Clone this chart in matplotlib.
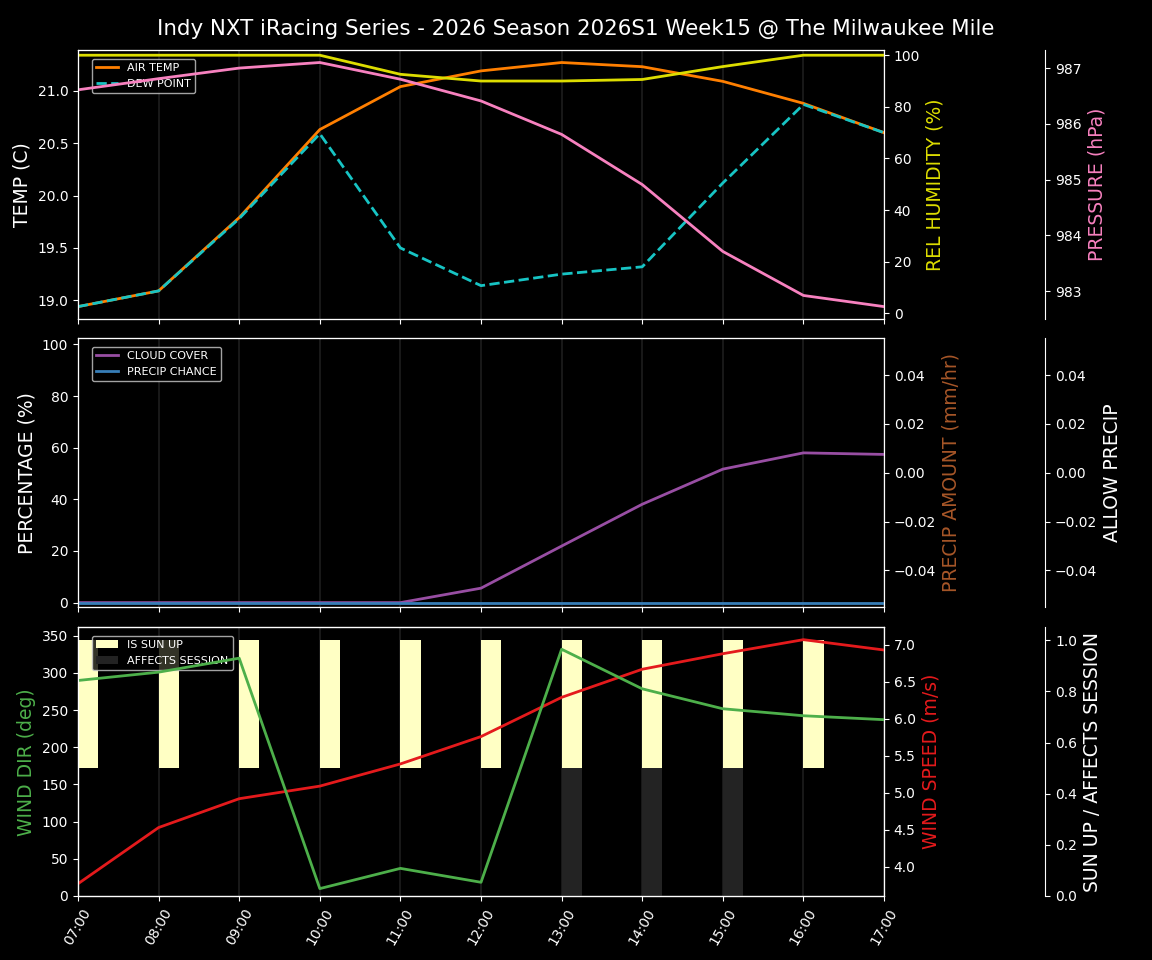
import matplotlib

matplotlib.use("Agg")
import matplotlib.dates as mdates
import matplotlib.pyplot as plt
import numpy as np
import pandas as pd

TITLE = "Indy NXT iRacing Series - 2026 Season 2026S1 Week15 @ The Milwaukee Mile"

hours = pd.date_range("2026-01-01 07:00", periods=11, freq="h")

air_temp = [18.94, 19.09, 19.79, 20.63, 21.04, 21.19, 21.27, 21.23, 21.09, 20.88, 20.60]
dew_point = [18.94, 19.09, 19.78, 20.59, 19.50, 19.14, 19.25, 19.32, 20.12, 20.87, 20.60]
rel_humidity = [100, 100, 100, 100, 92.6, 90.0, 90.0, 90.6, 95.6, 100, 100]
pressure = [986.61, 986.81, 987.00, 987.10, 986.80, 986.41, 985.81, 984.91, 983.71, 982.92, 982.72]

cloud_cover = [0, 0, 0, 0, 0, 5.6, 21.9, 38.1, 51.7, 58.0, 57.4]
precip_chance = [0, 0, 0, 0, 0, 0, 0, 0, 0, 0, 0]
precip_amount = [0, 0, 0, 0, 0, 0, 0, 0, 0, 0, 0]
allow_precip = [0, 0, 0, 0, 0, 0, 0, 0, 0, 0, 0]

wind_dir = [289.7, 300.9, 319.7, 9.9, 37.1, 18.4, 331.7, 278.5, 251.7, 242.3, 237.0]
wind_speed = [3.77, 4.53, 4.92, 5.09, 5.39, 5.76, 6.29, 6.67, 6.88, 7.07, 6.93]
sun_up = [1, 1, 1, 1, 1, 1, 1, 1, 1, 1, 1]
affects_session = [0, 0, 0, 0, 0, 0, 1, 1, 1, 0, 0]

plt.style.use("dark_background")

fig = plt.figure(figsize=(11.52, 9.6), dpi=100)
left, width = 0.0677, 0.6997
ax_h = 0.2797
bottoms = [0.6679, 0.3677, 0.0667]
ax1 = fig.add_axes([left, bottoms[0], width, ax_h])
ax2 = fig.add_axes([left, bottoms[1], width, ax_h], sharex=ax1)
ax3 = fig.add_axes([left, bottoms[2], width, ax_h], sharex=ax1)

fig.suptitle(TITLE, fontsize=15.4, y=0.9797)

LABEL_FS = 13.5
HUM_COL = "#dddd00"
PRES_COL = "#f781bf"
BROWN = "#a65628"
GREEN = "#4daf4a"
RED = "#e41a1c"

for ax in (ax1, ax2, ax3):
    ax.grid(axis="x", color="#1e1e1e", linewidth=1.2)
    ax.set_axisbelow(True)


def extra_axis(ax):
    extra = ax.twinx()
    extra.spines["right"].set_position(("axes", 1.2))
    return extra


# --- top panel: temperatures, humidity, pressure
ax1.plot(hours, air_temp, color="#ff7f00", linewidth=2, label="AIR TEMP")
ax1.plot(hours, dew_point, color="#17c4c4", linewidth=2, linestyle="--", label="DEW POINT")
ax1.set_ylabel("TEMP (C)", fontsize=LABEL_FS)
ax1.legend(loc="upper left", fontsize=8, bbox_to_anchor=(0.01, 0.99))

ax1b = ax1.twinx()
ax1b.plot(hours, rel_humidity, color=HUM_COL, linewidth=2)
ax1b.set_ylim(-2.1, 101.9)
ax1b.set_ylabel("REL HUMIDITY (%)", color=HUM_COL, fontsize=LABEL_FS)

ax1c = extra_axis(ax1)
ax1c.plot(hours, pressure, color=PRES_COL, linewidth=2)
ax1c.set_ylabel("PRESSURE (hPa)", color=PRES_COL, fontsize=LABEL_FS)

# --- middle panel: cloud / precip
ax2.plot(hours, cloud_cover, color="#984ea3", linewidth=2, label="CLOUD COVER")
ax2.plot(hours, precip_chance, color="#377eb8", linewidth=2, label="PRECIP CHANCE")
ax2.set_ylim(-1.7, 102.3)
ax2.set_ylabel("PERCENTAGE (%)", fontsize=LABEL_FS)
ax2.legend(loc="upper left", fontsize=8, bbox_to_anchor=(0.01, 0.99))

ax2b = ax2.twinx()
ax2b.bar(hours, precip_amount, width=0.25 / 24, color=BROWN, align="edge")
ax2b.set_ylim(-0.055, 0.055)
ax2b.set_ylabel("PRECIP AMOUNT (mm/hr)", color=BROWN, fontsize=LABEL_FS)

ax2c = extra_axis(ax2)
ax2c.bar(hours, allow_precip, width=0.25 / 24, color="white", align="edge")
ax2c.set_ylim(-0.055, 0.055)
ax2c.set_ylabel("ALLOW PRECIP", fontsize=LABEL_FS)

# --- bottom panel: wind and sun
ax3c = extra_axis(ax3)
bar_w = 0.25 / 24
ax3c.bar(hours, np.array(sun_up) * 0.5, bottom=0.5, width=bar_w, align="edge",
         color="#ffffc4", label="IS SUN UP", zorder=1)
ax3c.bar(hours, np.array(affects_session) * 0.5, width=bar_w, align="edge",
         color="#232323", label="AFFECTS SESSION", zorder=1)
ax3c.set_ylim(0, 1.05)
ax3c.set_ylabel("SUN UP / AFFECTS SESSION", fontsize=LABEL_FS)
ax3c.legend(loc="upper left", fontsize=8, bbox_to_anchor=(0.01, 0.99))

ax3b = ax3.twinx()
ax3b.plot(hours, wind_speed, color=RED, linewidth=2)
ax3b.set_ylabel("WIND SPEED (m/s)", color=RED, fontsize=LABEL_FS)

ax3a = ax3.twinx()
ax3a.plot(hours, wind_dir, color=GREEN, linewidth=2)
ax3a.set_ylim(0, 361)
ax3a.yaxis.tick_left()
ax3a.yaxis.set_label_position("left")
ax3a.set_ylabel("WIND DIR (deg)", color=GREEN, fontsize=LABEL_FS)
ax3.set_yticks([])
ax3.set_ylim(0, 361)

ax3.set_xlim(hours[0], hours[-1])
ax3.xaxis.set_major_locator(mdates.HourLocator())
ax3.xaxis.set_major_formatter(mdates.DateFormatter("%H:%M"))
plt.setp(ax3.get_xticklabels(), rotation=60)
plt.setp(ax1.get_xticklabels(), visible=False)
plt.setp(ax2.get_xticklabels(), visible=False)

fig.savefig("out.png", dpi=100)
